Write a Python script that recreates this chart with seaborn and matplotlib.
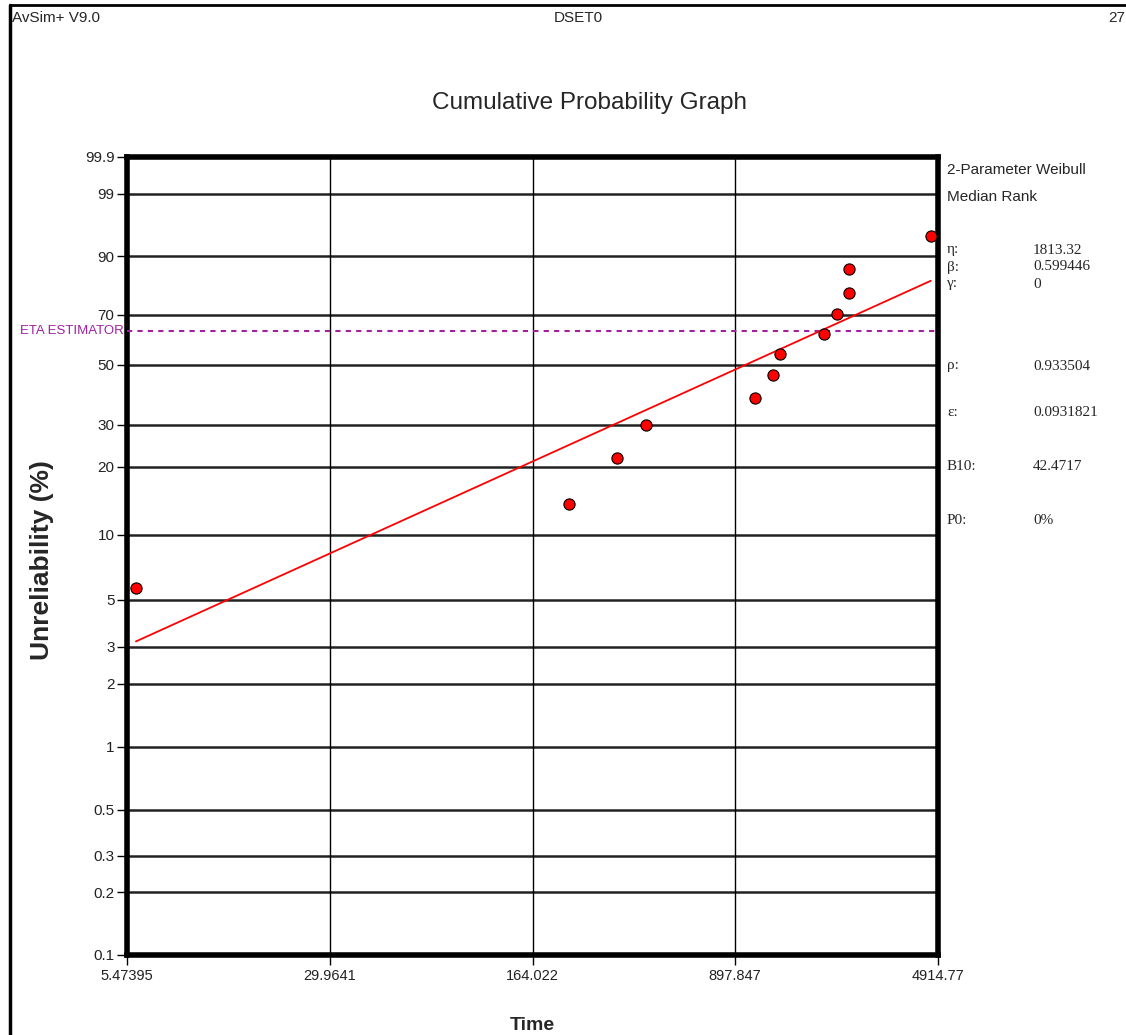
import numpy as np
import pandas as pd
import matplotlib
matplotlib.use("Agg")
import matplotlib.pyplot as plt
from matplotlib.lines import Line2D
from matplotlib.transforms import blended_transform_factory
import seaborn as sns

# === Data ===
times = [5.90, 223.4, 334.0, 425.0, 1060.0, 1236.0, 1307.0, 1890.0, 2113.0, 2337.0, 2337.0, 4626.0]
unreliability = [5.65, 13.71, 21.77, 29.84, 37.90, 45.97, 54.03, 62.10, 70.16, 78.23, 86.29, 94.35]

eta = 1813.32
beta = 0.599446
eta_line_pct = 63.21

x_ticks = [5.47395, 29.9641, 164.022, 897.847, 4914.77]
x_tick_labels = ["5.47395", "29.9641", "164.022", "897.847", "4914.77"]
y_ticks = [0.1, 0.2, 0.3, 0.5, 1, 2, 3, 5, 10, 20, 30, 50, 70, 90, 99, 99.9]
y_tick_labels = ["0.1", "0.2", "0.3", "0.5", "1", "2", "3", "5", "10", "20", "30", "50", "70", "90", "99", "99.9"]

stat_names = ["η:", "β:", "γ:", "ρ:", "ε:", "B10:", "P0:"]
stat_values = ["1813.32", "0.599446", "0", "0.933504", "0.0931821", "42.4717", "0%"]
stat_rows_px = [250, 267, 284, 366, 413, 467, 520]

SANS = ["Liberation Sans", "DejaVu Sans"]
SERIF = ["Liberation Serif", "DejaVu Serif"]

sns.set_style("white")
plt.rcParams["font.family"] = SANS


# === Weibull probability scale for y ===
def weib_fwd(p):
    p = np.clip(np.asarray(p, dtype=float), 1e-6, 100 - 1e-6) / 100.0
    return np.log(-np.log(1 - p))


def weib_inv(y):
    return 100.0 * (1 - np.exp(-np.exp(np.asarray(y, dtype=float))))


W, H = 1126, 1035
fig = plt.figure(figsize=(W / 100, H / 100), dpi=100)
ax = fig.add_axes([127 / W, 1 - 955 / H, (938 - 127) / W, (955 - 157) / H])

ax.set_xscale("log")
ax.set_yscale("function", functions=(weib_fwd, weib_inv))

df_pts = pd.DataFrame({"Time": times, "Unreliability": unreliability})

# fitted Weibull line from the stated parameters
line_t = np.array([times[0], times[-1]])
line_f = 100 * (1 - np.exp(-(line_t / eta) ** beta))
df_line = pd.DataFrame({"Time": line_t, "Unreliability": line_f})

sns.lineplot(data=df_line, x="Time", y="Unreliability", ax=ax, color="red", lw=1.3, zorder=4)
sns.scatterplot(data=df_pts, x="Time", y="Unreliability", ax=ax, color="red",
                edgecolor="black", linewidth=0.8, s=65, zorder=5)

ax.axhline(eta_line_pct, color="#a020a0", lw=1.5, ls=(0, (2.5, 2.5)), zorder=3)
ax.text(-0.004, eta_line_pct, "ETA ESTIMATOR", color="#a020a0", fontsize=9.5,
        ha="right", va="center", transform=blended_transform_factory(ax.transAxes, ax.transData))

ax.set_xlim(x_ticks[0], x_ticks[-1])
ax.set_ylim(0.1, 99.9)
ax.set_xticks(x_ticks)
ax.set_xticklabels(x_tick_labels)
ax.minorticks_off()
ax.set_yticks(y_ticks)
ax.set_yticklabels(y_tick_labels)

ax.grid(False)
for y in y_ticks[1:-1]:
    ax.axhline(y, color="#222222", lw=1.8, zorder=1)
for x in x_ticks[1:-1]:
    ax.axvline(x, color="black", lw=1.0, zorder=1)

ax.tick_params(axis="both", which="major", direction="out", length=7, width=1,
               color="black", labelcolor="#222222", left=True, bottom=True)
ax.tick_params(axis="x", pad=3, labelsize=10.5)
ax.tick_params(axis="y", pad=2, labelsize=11)

for side in ["left", "bottom", "top", "right"]:
    ax.spines[side].set_visible(True)
    ax.spines[side].set_color("black")
    ax.spines[side].set_linewidth(4)

ax.set_xlabel("")
ax.set_ylabel("")
fig.text(42 / W, 1 - 560 / H, "Unreliability (%)", rotation=90, ha="center", va="center",
         fontsize=19, fontweight="bold")
fig.text(532 / W, 1 - 1026 / H, "Time", ha="center", va="center", fontsize=14, fontweight="bold")

# === Header and title ===
fig.text(590 / W, 1 - 103 / H, "Cumulative Probability Graph", ha="center", va="center", fontsize=17.5)
fig.text(12 / W, 1 - 18 / H, "AvSim+ V9.0", ha="left", va="center", fontsize=11)
fig.text(578 / W, 1 - 18 / H, "DSET0", ha="center", va="center", fontsize=11)
fig.text(1108 / W, 1 - 18 / H, "27", ha="left", va="center", fontsize=11)

# === Stats panel ===
fig.text(947 / W, 1 - 170 / H, "2-Parameter Weibull", ha="left", va="center", fontsize=11)
fig.text(947 / W, 1 - 197 / H, "Median Rank", ha="left", va="center", fontsize=11)
for name, val, ypx in zip(stat_names, stat_values, stat_rows_px):
    fig.text(947 / W, 1 - ypx / H, name, ha="left", va="center", fontsize=11, family=SERIF)
    fig.text(1033 / W, 1 - ypx / H, val, ha="left", va="center", fontsize=11, family=SERIF)

# === Outer frame ===
fig.add_artist(Line2D([9.5 / W, 9.5 / W], [0, 1 - 5 / H], color="black", lw=2.5, transform=fig.transFigure))
fig.add_artist(Line2D([9.5 / W, 1], [1 - 5 / H, 1 - 5 / H], color="black", lw=2, transform=fig.transFigure))

fig.savefig("out.png", dpi=100)
